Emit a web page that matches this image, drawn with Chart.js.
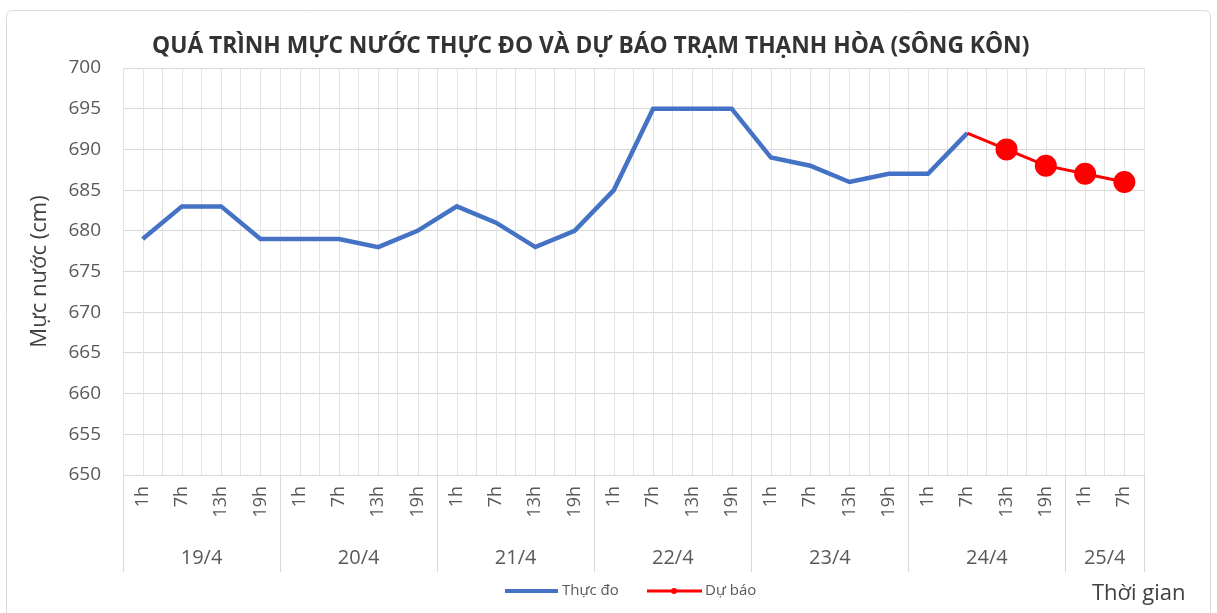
<!DOCTYPE html>
<html><head><meta charset="utf-8">
<script src="https://cdn.jsdelivr.net/npm/chart.js@4/dist/chart.umd.min.js"></script>
<style>html,body{margin:0;padding:0;background:#fff;overflow:hidden}</style>
</head><body>
<canvas id="c" width="1217" height="613" style="display:block;width:1217px;height:613px"></canvas>
<script>
const chartTitle = 'QUÁ TRÌNH MỰC NƯỚC THỰC ĐO VÀ DỰ BÁO TRẠM THẠNH HÒA (SÔNG KÔN)';
const yAxisTitle = 'Mực nước (cm)';
const xAxisTitle = 'Thời gian';
const dates = ['19/4','20/4','21/4','22/4','23/4','24/4','25/4'];
const hoursPerDate = [4,4,4,4,4,4,2];
const hourLabels = ['1h','7h','13h','19h','1h','7h','13h','19h','1h','7h','13h','19h','1h','7h','13h','19h','1h','7h','13h','19h','1h','7h','13h','19h','1h','7h'];
const observed = [679,683,683,679, 679,679,678,680, 683,681,678,680, 685,695,695,695, 689,688,686,687, 687,692, null,null,null,null];
const forecast = [null,null,null,null, null,null,null,null, null,null,null,null, null,null,null,null, null,null,null,null, null,692, 690,688,687,686];
const seriesNames = ['Thực đo','Dự báo'];
const yTicks = {min:650, max:700, step:5};

const FONT = "'Open Sans', 'Noto Sans', sans-serif";
const firstForecast = forecast.findIndex(v => v !== null);
const forecastRadius = forecast.map((v,i) => (v === null || i === firstForecast) ? 0 : 9.5);

const decor = {
  id: 'decor',
  beforeDraw(chart) {
    const ctx = chart.ctx;
    ctx.save();
    ctx.fillStyle = '#fff';
    ctx.fillRect(0,0,chart.width,chart.height);
    ctx.strokeStyle = '#D9D9D9';
    ctx.lineWidth = 1;
    ctx.beginPath();
    ctx.roundRect(6.5, 10.5, 1204, 640, 6);
    ctx.stroke();
    ctx.restore();
  },
  beforeDatasetsDraw(chart) {
    const ctx = chart.ctx, xs = chart.scales.x, a = chart.chartArea;
    ctx.save();
    ctx.strokeStyle = '#E3E3E3';
    ctx.lineWidth = 1;
    for (let i = 0; i < hourLabels.length; i++) {
      const x = Math.round(xs.getPixelForValue(i)) + 0.5;
      ctx.beginPath(); ctx.moveTo(x, a.top); ctx.lineTo(x, a.bottom); ctx.stroke();
    }
    ctx.restore();
  },
  afterDraw(chart) {
    const ctx = chart.ctx, xs = chart.scales.x, a = chart.chartArea;
    ctx.save();
    ctx.strokeStyle = '#D9D9D9';
    ctx.lineWidth = 1;
    let start = 0;
    ctx.fillStyle = '#595959';
    ctx.font = '20px ' + FONT;
    ctx.textAlign = 'center';
    ctx.textBaseline = 'middle';
    const drawSep = (idx) => {
      const x = Math.round(xs.getPixelForValue(idx - 0.5)) + 0.5;
      ctx.beginPath(); ctx.moveTo(x, a.bottom); ctx.lineTo(x, 572); ctx.stroke();
    };
    drawSep(0);
    dates.forEach((d, k) => {
      const end = start + hoursPerDate[k];
      drawSep(end);
      const cx = (xs.getPixelForValue(start - 0.5) + xs.getPixelForValue(end - 0.5)) / 2;
      ctx.fillText(d, cx, 558);
      start = end;
    });
    // title
    ctx.fillStyle = '#333333';
    ctx.font = 'bold 20px ' + FONT;
    let w = ctx.measureText(chartTitle).width;
    const size = 20 * 878 / w;
    ctx.font = 'bold ' + size.toFixed(2) + 'px ' + FONT;
    ctx.textAlign = 'left';
    ctx.fillText(chartTitle, 152, 46);
    // legend
    const ly = 591;
    ctx.lineCap = 'butt';
    ctx.strokeStyle = chart.data.datasets[0].borderColor;
    ctx.lineWidth = 4;
    ctx.beginPath(); ctx.moveTo(505, ly); ctx.lineTo(558, ly); ctx.stroke();
    ctx.strokeStyle = chart.data.datasets[1].borderColor;
    ctx.lineWidth = 3;
    ctx.beginPath(); ctx.moveTo(647, ly); ctx.lineTo(702, ly); ctx.stroke();
    ctx.fillStyle = chart.data.datasets[1].borderColor;
    ctx.beginPath(); ctx.arc(674, ly, 3, 0, Math.PI*2); ctx.fill();
    ctx.fillStyle = '#595959';
    ctx.font = '15px ' + FONT;
    ctx.textAlign = 'left';
    ctx.fillText(seriesNames[0], 562, ly);
    ctx.fillText(seriesNames[1], 705, ly);
    // x axis title
    ctx.fillStyle = '#404040';
    ctx.font = '22px ' + FONT;
    ctx.fillText(xAxisTitle, 1092, 594);
    ctx.restore();
  }
};

new Chart(document.getElementById('c'), {
  type: 'line',
  data: {
    labels: hourLabels,
    datasets: [
      { label: seriesNames[0], data: observed, borderColor: '#4472C4', backgroundColor: '#4472C4',
        borderWidth: 4.5, pointRadius: 0, pointHoverRadius: 0, tension: 0, spanGaps: false, order: 2 },
      { label: seriesNames[1], data: forecast, borderColor: '#FF0000', backgroundColor: '#FF0000',
        borderWidth: 3, pointRadius: forecastRadius, pointBackgroundColor: '#FF0000', pointBorderColor: '#FF0000',
        pointHoverRadius: 0, tension: 0, order: 1 }
    ]
  },
  options: {
    responsive: false,
    animation: false,
    devicePixelRatio: 1,
    events: [],
    layout: { padding: { left: 0, right: 73, top: 68, bottom: 0 } },
    plugins: { legend: { display: false }, title: { display: false }, tooltip: { enabled: false } },
    scales: {
      x: {
        type: 'category',
        offset: true,
        grid: { offset: true, color: '#E3E3E3', drawTicks: false },
        border: { display: true, color: '#D9D9D9' },
        ticks: { autoSkip: false, maxRotation: 90, minRotation: 90, padding: 11,
                 color: '#595959', font: { family: FONT, size: 18 } },
        afterFit(s) { s.height = 138; }
      },
      y: {
        min: yTicks.min, max: yTicks.max,
        ticks: { stepSize: yTicks.step, padding: 22, color: '#595959', font: { family: FONT, size: 19 } },
        grid: { color: '#D9D9D9', drawTicks: false },
        border: { display: false },
        title: { display: true, text: yAxisTitle, color: '#404040', font: { family: FONT, size: 22 }, padding: { top: 27, bottom: 0 } },
        afterFit(s) { s.width = 123; }
      }
    }
  },
  plugins: [decor]
});
</script>
</body></html>
